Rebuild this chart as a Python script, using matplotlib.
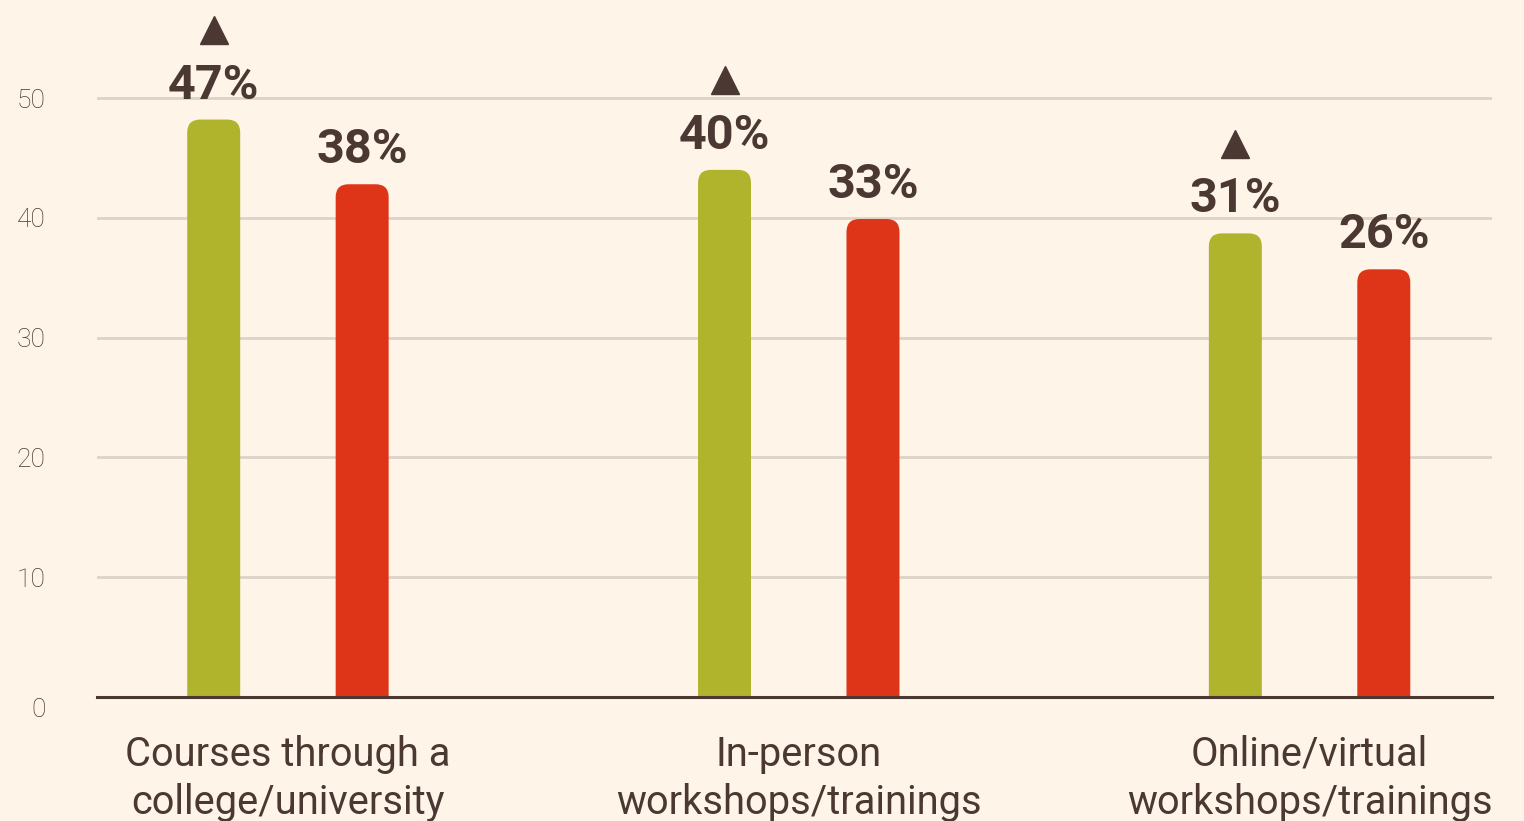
import matplotlib
matplotlib.use("Agg")
import matplotlib.pyplot as plt
from matplotlib.patches import FancyBboxPatch
import matplotlib.transforms as mtransforms
import numpy as np

categories = ["Courses through a\ncollege/university",
              "In-person\nworkshops/trainings",
              "Online/virtual\nworkshops/trainings"]
green_vals = [48.2, 44.0, 38.7]
red_vals = [42.8, 39.9, 35.7]
green_labels = ["47%", "40%", "31%"]
red_labels = ["38%", "33%", "26%"]
yticks = [0, 10, 20, 30, 40, 50]

BG = "#fef4e8"
GREEN = "#b0b42c"
RED = "#de3519"
TXT = "#4b3832"
GRID = "#ddd4c9"

W, H, DPI = 1524, 821, 100
fig = plt.figure(figsize=(W / DPI, H / DPI), dpi=DPI, facecolor=BG)
ax = fig.add_axes([97 / W, 124 / H, (1492 - 97) / W, 697 / H])
ax.set_facecolor(BG)

px_per_unit = (697 - 98) / 50.0
px_per_cat = 511.0
ax.set_ylim(0, 697 / px_per_unit)
ax.set_xlim(-(288 - 97) / px_per_cat, 2 + (1492 - 1309.5) / px_per_cat)

x = np.arange(len(categories))
off = 148.5 / 2 / px_per_cat
bw = 53 / px_per_cat

bars_g = ax.bar(x - off, green_vals, width=bw, color=GREEN, zorder=3)
bars_r = ax.bar(x + off, red_vals, width=bw, color=RED, zorder=3)

r_px = 13
rx = r_px / px_per_cat
aspect = px_per_cat / px_per_unit
for bars, col in ((bars_g, GREEN), (bars_r, RED)):
    for b in bars:
        b.set_visible(False)
        p = FancyBboxPatch((b.get_x(), -3), b.get_width(), b.get_height() + 3,
                           boxstyle=f"round,pad=0,rounding_size={rx}",
                           mutation_aspect=aspect, facecolor=col,
                           edgecolor="none", zorder=3, clip_on=True)
        ax.add_patch(p)

lab_font = dict(family="Roboto", weight="bold", size=35, color=TXT)
for bars, labs in ((bars_g, green_labels), (bars_r, red_labels)):
    for b, t in zip(bars, labs):
        cx = b.get_x() + b.get_width() / 2
        ax.annotate(t, (cx, b.get_height()), xytext=(0, 21),
                    textcoords="offset pixels", ha="center", va="baseline",
                    zorder=4, **lab_font)

tri_tr = mtransforms.offset_copy(ax.transData, fig=fig, x=0, y=89.5, units="dots")
for b in bars_g:
    cx = b.get_x() + b.get_width() / 2
    ax.plot([cx], [b.get_height()], marker="^", markersize=19.5, color=TXT,
            transform=tri_tr, clip_on=False, zorder=4, linestyle="none")

ax.set_yticks(yticks)
ax.set_yticklabels([str(v) for v in yticks], family="Roboto", weight="light",
                   size=19, color=TXT)
ax.tick_params(axis="y", length=0, pad=37)
ylabs = ax.get_yticklabels()
ylabs[0].set_transform(ylabs[0].get_transform() +
                       mtransforms.ScaledTranslation(0, -10 / DPI, fig.dpi_scale_trans))

ax.set_xticks(x)
ax.set_xticklabels(categories, family="Roboto", size=28.7, color=TXT, linespacing=1.32)
ax.tick_params(axis="x", length=0, pad=27)

ax.grid(axis="y", color=GRID, linewidth=2, zorder=0)
for s in ("top", "right", "left"):
    ax.spines[s].set_visible(False)
ax.spines["bottom"].set_color(TXT)
ax.spines["bottom"].set_linewidth(2.2)
ax.spines["bottom"].set_zorder(5)

fig.savefig("out.png", dpi=DPI, facecolor=BG)
